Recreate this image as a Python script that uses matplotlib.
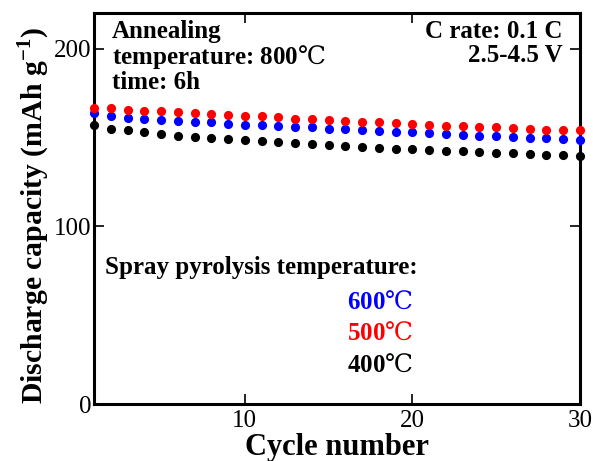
import matplotlib
matplotlib.use("Agg")
import matplotlib.pyplot as plt
import numpy as np

cycles = list(range(1, 31))
cap_600 = [163.7, 161.8, 161.0, 160.5, 159.9, 159.3, 158.8, 158.4, 157.8, 157.2,
           156.9, 156.3, 155.9, 155.6, 155.0, 154.6, 154.0, 153.7, 153.3, 152.9,
           152.3, 152.0, 151.6, 151.0, 150.7, 150.3, 149.9, 149.5, 149.0, 148.6]
cap_500 = [166.5, 166.5, 165.7, 165.0, 164.8, 164.4, 163.8, 163.1, 162.7, 162.1,
           161.8, 161.4, 160.6, 160.5, 159.9, 159.1, 158.9, 158.8, 158.0, 157.6,
           157.2, 156.7, 156.3, 155.9, 155.6, 155.2, 154.8, 154.4, 154.2, 154.0]
cap_400 = [157.2, 154.8, 153.9, 152.9, 152.2, 151.0, 150.3, 149.7, 149.1, 148.4,
           147.8, 147.5, 146.9, 146.3, 145.6, 145.2, 144.4, 144.0, 143.7, 143.3,
           142.9, 142.5, 142.2, 141.8, 141.4, 141.0, 140.7, 140.3, 140.1, 139.7]
labels = ["600$\\mathrm{℃}$", "500$\\mathrm{℃}$", "400$\\mathrm{℃}$"]
colors = ["#0000ff", "#ff0000", "#000000"]
xticks = [10, 20, 30]
yticks = [0, 100, 200]

fam = ["Liberation Serif", "DejaVu Serif", "Noto Sans CJK JP"]
plt.rcParams['font.family'] = fam
plt.rcParams['mathtext.fontset'] = 'custom'
plt.rcParams['mathtext.rm'] = 'DejaVu Serif'
plt.rcParams['mathtext.bf'] = 'Liberation Serif:bold'

fig = plt.figure(figsize=(5.93, 4.61), dpi=100)
ax = fig.add_axes([0.1585, 0.1236, 0.8195, 0.8482])

ms = 6.6
ax.plot(cycles, cap_400, 'o', color=colors[2], ms=ms, mew=0, clip_on=False, zorder=3)
ax.plot(cycles, cap_600, 'o', color=colors[0], ms=ms, mew=0, clip_on=False, zorder=4)
ax.plot(cycles, cap_500, 'o', color=colors[1], ms=ms, mew=0, clip_on=False, zorder=5)

ax.set_xlim(1, 30)
ax.set_ylim(0, 220)
ax.set_xticks(xticks)
ax.set_yticks(yticks)
ax.tick_params(direction='in', length=7, width=1.2, top=True, right=True,
               labelsize=18)
ax.tick_params(axis='x', pad=4)
ax.tick_params(axis='y', pad=2)
for s in ax.spines.values():
    s.set_linewidth(2.2)

ax.set_xlabel("Cycle number", fontsize=22, fontweight='bold', labelpad=1)
ax.set_ylabel(r"Discharge capacity (mAh g$^{\mathbf{-1}}$)", fontsize=21.4,
              fontweight='bold', labelpad=1)
ax.yaxis.label.set_y(0.483)

ax.text(0.037, 0.983, "Annealing\ntemperature: 800$\\mathrm{℃}$\ntime: 6h", transform=ax.transAxes,
        ha='left', va='top', fontsize=18, fontweight='bold', linespacing=1.0)
ax.text(0.965, 0.983, "C rate: 0.1 C\n2.5-4.5 V", transform=ax.transAxes,
        ha='right', va='top', fontsize=18, fontweight='bold', linespacing=1.1,
        multialignment='right')
ax.text(0.022, 0.350, "Spray pyrolysis temperature:", transform=ax.transAxes,
        ha='left', va='center', fontsize=18, fontweight='bold')
ys = [0.261, 0.182, 0.100]
for lab, c, y in zip(labels, colors, ys):
    ax.text(0.521, y, lab, transform=ax.transAxes, ha='left', va='center',
            fontsize=18, fontweight='bold', color=c)

fig.savefig("out.png", dpi=100)
